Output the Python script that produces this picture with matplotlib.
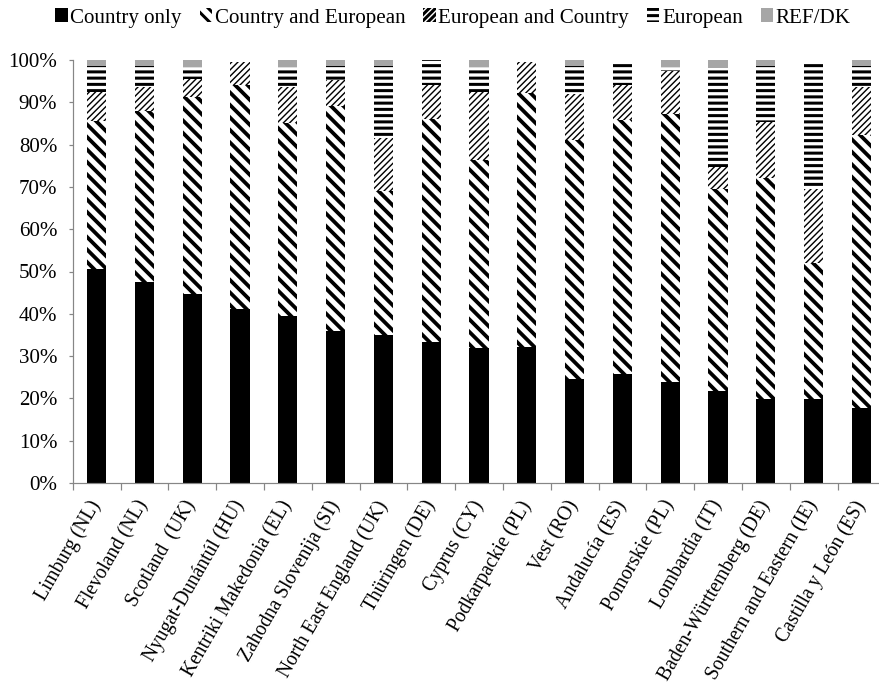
import matplotlib
matplotlib.use("Agg")
import matplotlib.pyplot as plt
import numpy as np
from matplotlib.ticker import PercentFormatter, FixedLocator

DPI = 75


def px(v):
    # pixel size -> points at this dpi
    return v * 72 / DPI


regions = ["Limburg (NL)", "Flevoland (NL)", "Scotland  (UK)", "Nyugat-Dunántúl (HU)",
           "Kentriki Makedonia (EL)", "Zahodna Slovenija (SI)", "North East England (UK)",
           "Thüringen (DE)", "Cyprus (CY)", "Podkarpackie (PL)", "Vest (RO)",
           "Andalucía (ES)", "Pomorskie (PL)", "Lombardia (IT)", "Baden-Württemberg (DE)",
           "Southern and Eastern (IE)", "Castilla y León (ES)"]

country_only = [50.6, 47.6, 44.6, 41.1, 39.5, 36.0, 35.1, 33.3, 32.0, 32.2, 24.7, 25.7, 23.9, 21.8, 19.9, 19.9, 17.8]
country_european = [35.0, 40.3, 46.7, 53.1, 45.7, 53.1, 33.9, 52.7, 44.4, 59.9, 56.5, 60.0, 63.4, 47.6, 52.1, 32.0, 64.5]
european_country = [6.9, 5.6, 4.1, 5.3, 8.3, 6.2, 12.5, 8.2, 16.1, 7.4, 10.7, 8.4, 10.0, 5.4, 13.4, 17.5, 11.2]
european = [6.0, 5.0, 2.9, 0.0, 4.8, 3.2, 17.0, 5.9, 5.9, 0.0, 6.6, 5.4, 1.1, 23.3, 13.1, 30.1, 5.0]
ref_dk = [1.5, 1.5, 1.7, 0.0, 1.7, 1.5, 1.5, 0.0, 1.6, 0.0, 1.5, 0.0, 1.6, 1.9, 1.5, 0.0, 1.5]

series_names = ["Country only", "Country and European", "European and Country", "European", "REF/DK"]
series_values = [country_only, country_european, european_country, european, ref_dk]
# facecolor, hatch, hatch line width (px)
styles = [("black", None, 0),
          ("white", "\\\\", 3.8),
          ("white", "////", 1.4),
          ("white", "--", 3.0),
          ("#a6a6a6", None, 0)]

FS = px(21)
plt.rcParams['font.family'] = ['Liberation Serif', 'DejaVu Serif']

fig = plt.figure(figsize=(880 / DPI, 698 / DPI), dpi=DPI)
ax = fig.add_axes([72.7 / 880, 1 - 483 / 698, 812.6 / 880, 423 / 698])

x = np.arange(len(regions))
bottom = np.zeros(len(regions))
handles = []
for name, vals, (fc, hatch, hlw) in zip(series_names, series_values, styles):
    vals = np.array(vals) / 100
    if hatch:
        plt.rcParams['hatch.linewidth'] = px(hlw)
    bars = ax.bar(x, vals, 0.40, bottom=bottom, color=fc, hatch=hatch,
                  edgecolor="black", linewidth=0, label=name)
    for b in bars:
        if hatch and hasattr(b, "set_hatch_linewidth"):
            b.set_hatch_linewidth(px(hlw))
    handles.append(bars)
    bottom += vals

ax.set_xlim(-0.5, len(regions) - 0.5)
ax.set_ylim(0, 1)
ax.set_yticks(np.arange(0, 1.01, 0.1))
ax.yaxis.set_major_formatter(PercentFormatter(1, decimals=0))

ax.set_xticks(x)
ax.set_xticklabels(regions)
ax.xaxis.set_minor_locator(FixedLocator(np.arange(-0.5, len(regions), 1)))
ax.tick_params(axis="x", which="major", length=0, pad=px(19), labelsize=px(19.5))
ax.tick_params(axis="x", which="minor", length=px(6.7), width=px(1.2), color="#868686")
ax.tick_params(axis="y", length=px(4.5), width=px(1.2), color="#868686", pad=px(11), labelsize=FS)
for lbl in ax.get_xticklabels():
    lbl.set_rotation(60)
    lbl.set_ha("right")
    lbl.set_va("center")
    lbl.set_rotation_mode("anchor")

for s in ["top", "right"]:
    ax.spines[s].set_visible(False)
for s in ["left", "bottom"]:
    ax.spines[s].set_color("#868686")
    ax.spines[s].set_linewidth(px(1.2))

fig.legend(handles, series_names, ncol=5, loc="center",
           bbox_to_anchor=(453 / 880, 1 - 18 / 698), frameon=False, fontsize=FS,
           handlelength=0.6, handleheight=0.6, handletextpad=0.12, columnspacing=0.85,
           borderpad=0, borderaxespad=0)

fig.savefig("out.png", dpi=DPI)
